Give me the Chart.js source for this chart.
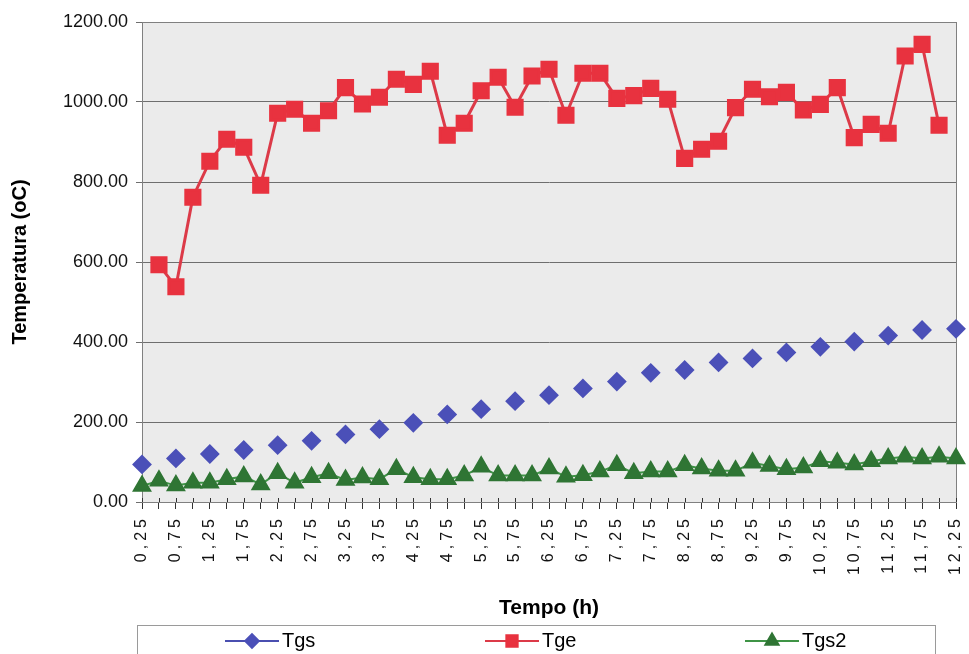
<!DOCTYPE html>
<html>
<head>
<meta charset="utf-8">
<script src="https://cdn.jsdelivr.net/npm/chart.js@4/dist/chart.umd.min.js"></script>
<style>
html, body { margin: 0; padding: 0; background: #fff; }
</style>
</head>
<body>
<canvas id="chart" width="969" height="654"></canvas>
<script>
// Tempo (h) categories, one every 0,25 h
const tempo = ['0,25','0,5','0,75','1','1,25','1,5','1,75','2','2,25','2,5','2,75','3',
    '3,25','3,5','3,75','4','4,25','4,5','4,75','5','5,25','5,5','5,75','6',
    '6,25','6,5','6,75','7','7,25','7,5','7,75','8','8,25','8,5','8,75','9',
    '9,25','9,5','9,75','10','10,25','10,5','10,75','11','11,25','11,5','11,75','12','12,25'];

// Tgs only measured every 0,5 h
const tgs = [94,null,109,null,120,null,130,null,142,null,153,null,169,null,182,null,
    198,null,219,null,232,null,252,null,267,null,284,null,301,null,323,null,
    330,null,349,null,359,null,374,null,388,null,401,null,416,null,430,null,433];

const tge = [null,593,538,762,852,907,887,792,972,982,947,978,1036,995,1012,1057,
    1044,1077,917,947,1028,1062,987,1065,1082,967,1072,1072,1009,1016,1034,1007,
    859,882,902,986,1032,1013,1024,980,994,1036,911,944,922,1115,1144,942,null];

const tgs2 = [40,53,41,48,48,57,64,44,72,48,62,72,55,61,57,82,62,57,57,66,
    88,66,66,66,84,63,67,76,92,72,76,76,92,84,78,78,98,90,82,86,
    102,98,94,102,109,113,109,113,109];

const yTicks = [0, 200, 400, 600, 800, 1000, 1200];

const xTitle = 'Tempo (h)';
const yTitle = 'Temperatura (oC)';

const sans = "'Liberation Sans', Arial, sans-serif";

// Plot background, frame, wide x labels, axis titles and the boxed legend
const excelLook = {
    id: 'excelLook',
    beforeDraw(chart) {
        const {ctx, chartArea: a} = chart;
        ctx.save();
        ctx.fillStyle = '#ebebeb';
        ctx.fillRect(a.left, a.top, a.right - a.left, a.bottom - a.top);
        ctx.restore();
    },
    beforeDatasetsDraw(chart) {
        const {ctx, chartArea: a} = chart;
        const xs = chart.scales.x;
        ctx.save();
        ctx.strokeStyle = '#808080';
        ctx.lineWidth = 1;
        ctx.strokeRect(a.left + 0.5, a.top + 0.5, a.right - a.left, a.bottom - a.top);
        // small tick marks crossing into the plot
        ctx.strokeStyle = '#333';
        ctx.beginPath();
        xs.ticks.forEach((t, i) => {
            const px = Math.round(xs.getPixelForTick(i)) + 0.5;
            ctx.moveTo(px, a.bottom - 4);
            ctx.lineTo(px, a.bottom);
        });
        ctx.stroke();
        ctx.restore();
    },
    afterDatasetsDraw(chart) {
        // x tick labels are drawn after this (ticks z = 1)
        chart.ctx.letterSpacing = '4px';
    },
    afterDraw(chart) {
        const ctx = chart.ctx;
        const a = chart.chartArea;
        ctx.letterSpacing = '0px';
        ctx.save();
        ctx.fillStyle = '#000';
        ctx.textAlign = 'center';
        ctx.textBaseline = 'middle';
        ctx.font = 'bold 21px ' + sans;
        ctx.fillText(xTitle, (a.left + a.right) / 2, 608);
        ctx.save();
        ctx.translate(20, (a.top + a.bottom) / 2);
        ctx.rotate(-Math.PI / 2);
        ctx.font = 'bold 20px ' + sans;
        ctx.fillText(yTitle, 0, 0);
        ctx.restore();

        ctx.fillStyle = '#fff';
        ctx.strokeStyle = '#9a9a9a';
        ctx.lineWidth = 1;
        ctx.fillRect(137.5, 625.5, 798, 40);
        ctx.strokeRect(137.5, 625.5, 798, 40);

        const centers = [252, 512, 772];
        const y = 641;
        chart.data.datasets.forEach((ds, i) => {
            const cx = centers[i];
            ctx.strokeStyle = ds.borderColor;
            ctx.lineWidth = 2;
            ctx.beginPath();
            ctx.moveTo(cx - 27, y);
            ctx.lineTo(cx + 27, y);
            ctx.stroke();
            ctx.fillStyle = ds.pointBackgroundColor;
            ctx.strokeStyle = ds.pointBorderColor;
            Chart.helpers.drawPoint(ctx, {
                pointStyle: ds.pointStyle,
                radius: ds.pointRadius * 0.8,
                rotation: 0,
                borderWidth: 1
            }, cx, y);
            ctx.fillStyle = '#000';
            ctx.font = '20px ' + sans;
            ctx.textAlign = 'left';
            ctx.textBaseline = 'middle';
            ctx.fillText(ds.label, cx + 30, y);
        });
        ctx.restore();
    }
};

new Chart(document.getElementById('chart'), {
    type: 'line',
    data: {
        labels: tempo,
        datasets: [{
            label: 'Tgs',
            data: tgs,
            borderColor: '#4a4fb0',
            borderWidth: 2,
            pointStyle: 'rectRot',
            pointRadius: 8.5,
            pointBackgroundColor: '#4b50b8',
            pointBorderColor: '#4b50b8',
            spanGaps: false
        }, {
            label: 'Tge',
            data: tge,
            borderColor: '#dc3a48',
            borderWidth: 3,
            pointStyle: 'rect',
            pointRadius: 10,
            pointBackgroundColor: '#e8323f',
            pointBorderColor: '#e8323f'
        }, {
            label: 'Tgs2',
            data: tgs2,
            borderColor: '#3f9446',
            borderWidth: 2,
            pointStyle: 'triangle',
            pointRadius: 9.5,
            pointBackgroundColor: '#2f7534',
            pointBorderColor: '#2f7534'
        }]
    },
    options: {
        responsive: false,
        animation: false,
        events: [],
        layout: {
            padding: { left: 0, right: 12, top: 22, bottom: 29 }
        },
        plugins: {
            legend: { display: false },
            tooltip: { enabled: false }
        },
        scales: {
            x: {
                offset: false,
                afterFit(scale) {
                    scale.height = 123;
                    scale.paddingLeft = 0;
                    scale.paddingRight = 0;
                },
                grid: {
                    drawOnChartArea: false,
                    drawTicks: true,
                    tickLength: 7,
                    color: '#333'
                },
                border: { color: '#222', width: 1 },
                ticks: {
                    z: 1,
                    autoSkip: false,
                    maxRotation: 90,
                    minRotation: 90,
                    padding: 6,
                    color: '#111',
                    font: { family: sans, size: 16 },
                    callback: (v, i) => i % 2 === 0 ? tempo[i] : ''
                }
            },
            y: {
                min: 0,
                max: 1200,
                afterFit(scale) { scale.width = 142; },
                afterBuildTicks(scale) {
                    scale.ticks = yTicks.map(v => ({ value: v }));
                },
                grid: {
                    color: '#6e6e6e',
                    lineWidth: 1,
                    tickLength: 6
                },
                border: { color: '#222', width: 1 },
                ticks: {
                    padding: 8,
                    color: '#111',
                    font: { family: sans, size: 18 },
                    callback: v => v.toFixed(2)
                }
            }
        }
    },
    plugins: [excelLook]
});
</script>
</body>
</html>
